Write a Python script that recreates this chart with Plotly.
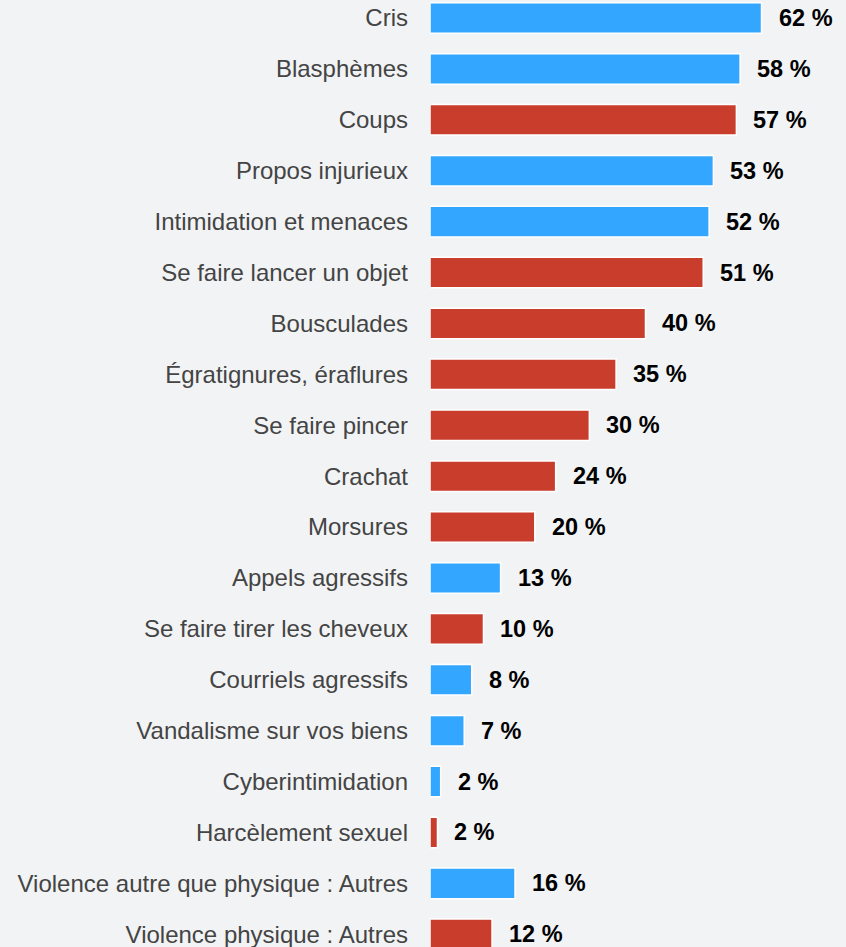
import plotly.graph_objects as go

categories = [
    "Cris", "Blasphèmes", "Coups", "Propos injurieux", "Intimidation et menaces",
    "Se faire lancer un objet", "Bousculades", "Égratignures, éraflures",
    "Se faire pincer", "Crachat", "Morsures", "Appels agressifs",
    "Se faire tirer les cheveux", "Courriels agressifs", "Vandalisme sur vos biens",
    "Cyberintimidation", "Harcèlement sexuel",
    "Violence autre que physique : Autres", "Violence physique : Autres",
]
values = [62.0, 58.0, 57.3, 53.0, 52.2, 51.1, 40.3, 34.8, 29.8, 23.5, 19.6,
          13.2, 10.0, 7.8, 6.4, 2.0, 1.4, 15.9, 11.6]
value_labels = ["62 %", "58 %", "57 %", "53 %", "52 %", "51 %", "40 %", "35 %",
                "30 %", "24 %", "20 %", "13 %", "10 %", "8 %", "7 %", "2 %",
                "2 %", "16 %", "12 %"]
kind = ["v", "v", "p", "v", "v", "p", "p", "p", "p", "p", "p", "v", "p", "v",
        "v", "v", "p", "v", "p"]

BLUE = "#33A6FF"
RED = "#C83D2C"
colors = [BLUE if k == "v" else RED for k in kind]
FONT = "Liberation Sans, Arial, sans-serif"

fig = go.Figure()
fig.add_trace(go.Bar(
    x=values, y=categories, orientation="h",
    marker=dict(color=colors, line=dict(color="white", width=1.5)),
    width=0.6, hoverinfo="skip",
))

for v, c, t in zip(values, categories, value_labels):
    fig.add_annotation(
        x=v, y=c, text=t, showarrow=False, xanchor="left", yanchor="middle",
        xshift=15, font=dict(family=FONT, size=23.5, color="#000000", weight="bold"),
    )

fig.update_layout(
    width=846, height=947,
    margin=dict(l=430, r=0, t=0, b=0),
    paper_bgcolor="#F2F3F5", plot_bgcolor="#F2F3F5",
    showlegend=False,
    xaxis=dict(range=[0, 77.8], visible=False, fixedrange=True),
    yaxis=dict(
        type="category", range=[18.25, -0.354], showgrid=False, zeroline=False,
        showline=False, ticks="", ticklabelstandoff=21,
        tickfont=dict(family=FONT, size=24, color="#444444"),
        fixedrange=True,
    ),
)

fig.write_html(
    "out.html",
    config={"displayModeBar": False},
    post_script="document.body.style.margin='0';document.body.style.background='#F2F3F5';",
)
